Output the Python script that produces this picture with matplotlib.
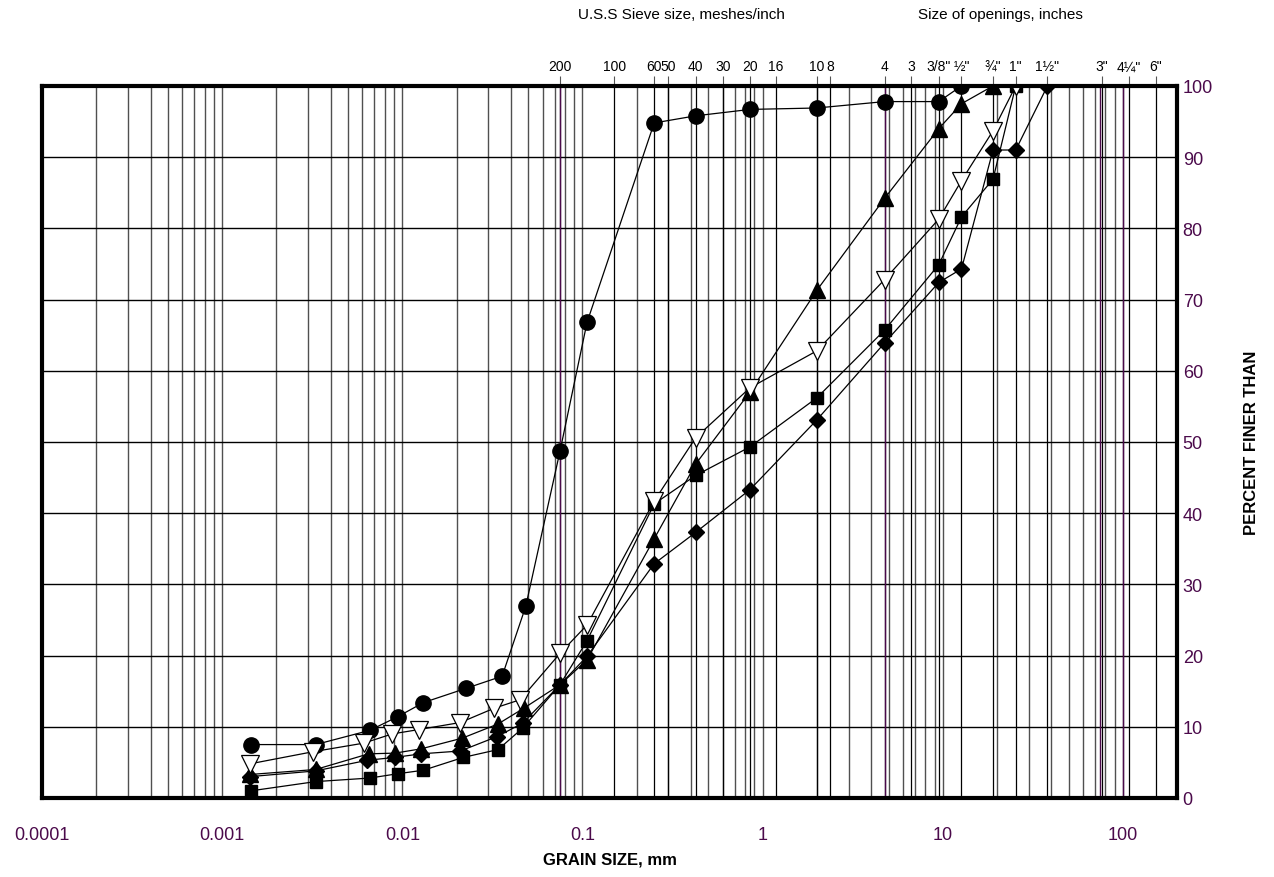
import matplotlib
matplotlib.use("Agg")
import matplotlib.pyplot as plt
import numpy as np
from matplotlib.ticker import FixedLocator, NullLocator

plt.rcParams["font.family"] = ["Liberation Sans", "DejaVu Sans"]

PURPLE = "#4b0a4b"

# grain size (mm) / percent finer for each sample
circ_x = [0.00144, 0.0033, 0.0066, 0.0094, 0.0131, 0.0226, 0.0358, 0.0484,
          0.075, 0.106, 0.25, 0.425, 0.85, 2.0, 4.75, 9.5, 12.7]
circ_y = [7.5, 7.5, 9.5, 11.4, 13.4, 15.4, 17.1, 26.9,
          48.7, 66.8, 94.8, 95.8, 96.7, 96.9, 97.8, 97.8, 100]

tdn_x = [0.00143, 0.0032, 0.0061, 0.0088, 0.0123, 0.0210, 0.0323, 0.0451,
         0.075, 0.106, 0.25, 0.425, 0.85, 2.0, 4.75, 9.5, 12.7, 19.0, 25.4]
tdn_y = [4.8, 6.5, 7.7, 9.0, 9.6, 10.6, 12.6, 13.8,
         20.3, 24.3, 41.7, 50.6, 57.6, 62.8, 72.8, 81.3, 86.7, 93.7, 100]

tup_x = [0.00143, 0.0033, 0.0065, 0.0091, 0.0127, 0.0215, 0.034, 0.0472,
         0.075, 0.106, 0.25, 0.425, 0.85, 2.0, 4.75, 9.5, 12.7, 19.0]
tup_y = [3.3, 4.0, 6.2, 6.3, 6.9, 8.4, 10.4, 12.6,
         15.9, 19.4, 36.4, 46.9, 57.0, 71.3, 84.2, 94.0, 97.5, 100]

dia_x = [0.00143, 0.0033, 0.0064, 0.0091, 0.0127, 0.0210, 0.0334, 0.0465,
         0.075, 0.106, 0.25, 0.425, 0.85, 2.0, 4.75, 9.5, 12.7, 19.0, 25.4, 38.1]
dia_y = [3.0, 3.8, 5.3, 5.7, 6.2, 6.6, 8.6, 10.5,
         15.9, 19.9, 32.9, 37.3, 43.3, 53.1, 63.9, 72.4, 74.3, 91.0, 91.0, 100]

sq_x = [0.00144, 0.0033, 0.0066, 0.0094, 0.0131, 0.0218, 0.034, 0.0465,
        0.075, 0.106, 0.25, 0.425, 0.85, 2.0, 4.75, 9.5, 12.7, 19.0, 25.4]
sq_y = [1.0, 2.3, 2.8, 3.4, 3.9, 5.7, 6.8, 9.8,
        15.9, 22.1, 41.3, 45.3, 49.3, 56.2, 65.7, 74.9, 81.6, 86.9, 100]

# sieve openings (mm) and their labels for the top scale
sieve_mm = [0.075, 0.15, 0.25, 0.30, 0.425, 0.60, 0.85, 1.18, 2.0, 2.36,
            4.75, 6.7, 9.5, 12.7, 19.0, 25.4, 38.1, 76.2, 108.0, 152.4]
sieve_lbl = ["200", "100", "60", "50", "40", "30", "20", "16", "10", "8",
             "4", "3", '3/8"', '½"', '¾"', '1"', '1½"', '3"', '4¼"', '6"']
purple_lines = [0.075, 4.75, 75.0, 100.0]

x_ticks = [0.0001, 0.001, 0.01, 0.1, 1, 10, 100]
x_tick_lbl = ["0.0001", "0.001", "0.01", "0.1", "1", "10", "100"]
y_ticks = list(range(0, 101, 10))

fig = plt.figure(figsize=(12.74, 8.78), dpi=100)
ax = fig.add_axes([0.033, 0.09, 0.891, 0.811])
ax.set_xscale("log")
ax.set_xlim(1e-4, 200)
ax.set_ylim(0, 100)

# log grid: 1..9 in every decade
minor = [m * 10.0 ** k for k in range(-4, 3) for m in range(1, 10)]
for v in minor:
    if 1e-4 < v < 200:
        ax.axvline(v, color="#505050", lw=1.0, zorder=1)
for v in sieve_mm:
    if v < 200:
        ax.axvline(v, color="black", lw=0.9, zorder=1)
for v in purple_lines:
    ax.axvline(v, color=PURPLE, lw=1.0, zorder=1.2)
for v in y_ticks[1:-1]:
    ax.axhline(v, color="black", lw=1.0, zorder=1)
ax.axhline(0, color=PURPLE, lw=2.0, zorder=2)

kw = dict(color="black", lw=0.9, zorder=3)
ax.plot(circ_x, circ_y, marker="o", ms=11, mfc="black", mec="black", **kw)
ax.plot(tup_x, tup_y, marker="^", ms=12, mfc="black", mec="black", **kw)
ax.plot(dia_x, dia_y, marker="D", ms=8.5, mfc="black", mec="black", **kw)
ax.plot(sq_x, sq_y, marker="s", ms=9, mfc="black", mec="black", **kw)
ax.plot(tdn_x, tdn_y, marker="v", ms=13, mfc="white", mec="black", mew=0.9, **kw)

for s in ax.spines.values():
    s.set_linewidth(3)
    s.set_color("black")
    s.set_zorder(4)

ax.xaxis.set_major_locator(FixedLocator(x_ticks))
ax.xaxis.set_minor_locator(NullLocator())
ax.set_xticklabels(x_tick_lbl)
ax.tick_params(axis="x", length=0, pad=20, labelsize=13, labelcolor=PURPLE)

ax.yaxis.tick_right()
ax.yaxis.set_label_position("right")
ax.set_yticks(y_ticks)
ax.tick_params(axis="y", length=0, pad=4, labelsize=13, labelcolor=PURPLE)

ax.set_xlabel("GRAIN SIZE, mm", fontsize=12, fontweight="bold", labelpad=6)
ax.set_ylabel("PERCENT FINER THAN", fontsize=12, fontweight="bold", labelpad=22)

top = ax.secondary_xaxis("top")
top.xaxis.set_major_locator(FixedLocator(sieve_mm))
top.xaxis.set_minor_locator(NullLocator())
top.set_xticklabels(sieve_lbl)
top.tick_params(axis="x", length=7, width=0.8, color="#555555", pad=2,
                labelsize=10)
top.spines["top"].set_visible(False)

fig.text(0.535, 0.983, "U.S.S Sieve size, meshes/inch", ha="center",
         va="center", fontsize=11)
fig.text(0.785, 0.983, "Size of openings, inches", ha="center",
         va="center", fontsize=11)

fig.savefig("out.png", dpi=100)
